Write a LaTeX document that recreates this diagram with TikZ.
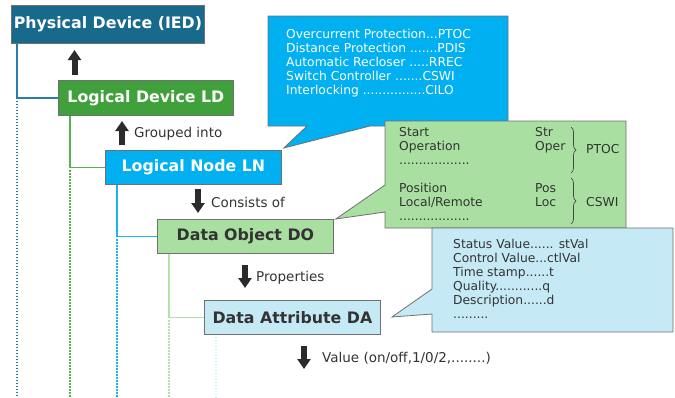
\documentclass[tikz,border=0pt]{standalone}
\usepackage{fontspec}
\setmainfont{DejaVu Sans}
\usetikzlibrary{arrows.meta,decorations.pathreplacing}
\definecolor{pdfill}{HTML}{176A8B}
\definecolor{ldfill}{HTML}{40A03B}
\definecolor{lnfill}{HTML}{00B0F0}
\definecolor{dofill}{HTML}{A9DFA1}
\definecolor{dafill}{HTML}{C6E9F6}
\definecolor{bordergray}{HTML}{707070}
\definecolor{pdline}{HTML}{2A7DA6}
\definecolor{ldline}{HTML}{58B24E}
\definecolor{lnline}{HTML}{1AB4F0}
\definecolor{doline}{HTML}{B2E2AA}
\definecolor{daline}{HTML}{CDEDF9}
\definecolor{txtdark}{HTML}{333333}
\definecolor{arrowdark}{HTML}{2B2B2B}
\tikzset{
  titlebox/.style={draw=bordergray, line width=0.8pt, anchor=north west, inner sep=0pt,
    font=\fontsize{15.8}{18}\selectfont\bfseries},
  treeline/.style={line width=1.2pt},
  dotline/.style={line width=1.3pt, dash pattern=on 1.3pt off 1.7pt},
  blockarrow/.style={line width=6pt, draw=arrowdark, -{Triangle[width=13pt,length=10pt]}},
  lbl/.style={anchor=base west, inner sep=0pt, text=txtdark, font=\fontsize{13.5}{16}\selectfont},
  ctext/.style={anchor=base west, inner sep=0pt, font=\fontsize{12.3}{14}\selectfont},
  callout/.style={draw=bordergray, line width=0.8pt, line join=miter},
  bracestyle/.style={draw=txtdark!90, line width=0.7pt, decorate, decoration={brace, amplitude=5pt}}
}
\begin{document}
\begin{tikzpicture}[x=1pt,y=-1pt]
\useasboundingbox (0,0) rectangle (675,397);
\coordinate (bot) at (0,397);

% title boxes
\node[titlebox, fill=pdfill, text=white, minimum width=193pt, minimum height=38pt] (pd) at (11,5) {Physical Device (IED)};
\node[titlebox, fill=ldfill, text=white, minimum width=175pt, minimum height=35pt] (ld) at (58,80) {Logical Device LD};
\node[titlebox, fill=lnfill, text=white, minimum width=176pt, minimum height=34pt] (ln) at (105,150) {Logical Node LN};
\node[titlebox, fill=dofill, text=txtdark, minimum width=176pt, minimum height=34pt] (do) at (157,219) {Data Object DO};
\node[titlebox, fill=dafill, text=txtdark, minimum width=176pt, minimum height=34pt] (da) at (204,300) {Data Attribute DA};

% tree lines
\draw[treeline, pdline] ([xshift=6pt]pd.south west) |- (ld.west);
\draw[dotline, pdline] ([xshift=6pt]pd.south west |- ld.west) ++(0,3) -- ([xshift=6pt]pd.south west |- bot);
\draw[treeline, ldline] ([xshift=12pt]ld.south west) |- (ln.west);
\draw[dotline, ldline] ([xshift=12pt]ld.south west |- ln.west) ++(0,3) -- ([xshift=12pt]ld.south west |- bot);
\draw[treeline, lnline] ([xshift=12pt]ln.south west) |- (do.west);
\draw[dotline, lnline] ([xshift=12pt]ln.south west |- do.west) ++(0,3) -- ([xshift=12pt]ln.south west |- bot);
\draw[treeline, doline] ([xshift=12pt]do.south west) |- (da.west);
\draw[dotline, doline] ([xshift=12pt]do.south west |- da.west) ++(0,3) -- ([xshift=12pt]do.south west |- bot);
\draw[dotline, daline] ([xshift=12pt]da.south west) ++(0,2) -- ([xshift=12pt]da.south west |- bot);

% block arrows and labels
\coordinate (a1s) at (74.5,75); \coordinate (a1e) at (74.5,50);
\coordinate (a2s) at (122,145); \coordinate (a2e) at (122,121);
\coordinate (a3s) at (198,189); \coordinate (a3e) at (198,213);
\coordinate (a4s) at (245,265); \coordinate (a4e) at (245,288);
\coordinate (a5s) at (304,346); \coordinate (a5e) at (304,369);
\draw[blockarrow] (a1s) -- (a1e);
\draw[blockarrow] (a2s) -- (a2e);
\draw[blockarrow] (a3s) -- (a3e);
\draw[blockarrow] (a4s) -- (a4e);
\draw[blockarrow] (a5s) -- (a5e);
\node[lbl] (l1) at (134,137) {Grouped into};
\node[lbl] (l2) at (211,207) {Consists of};
\node[lbl] (l3) at (256,281) {Properties};
\node[lbl] (l4) at (322,362) {Value (on/off,1/0/2,........)};

% blue callout
\coordinate (tipln) at ([shift={(2pt,2pt)}]ln.north east);
\draw[callout, fill=lnfill] (268,16) -- (508,16) -- (508,126) -- (370,126) -- (tipln) -- (307,126) -- (268,126) -- cycle;
\node[ctext, text=white] (b1) at (286,38) {Overcurrent Protection...PTOC};
\node[ctext, text=white] (b2) at (286,52) {Distance Protection .......PDIS};
\node[ctext, text=white] (b3) at (286,66) {Automatic Recloser .....RREC};
\node[ctext, text=white] (b4) at (286,80) {Switch Controller .......CSWI};
\node[ctext, text=white] (b5) at (286,94) {Interlocking ................CILO};

% green callout
\coordinate (tipdo) at ([shift={(2pt,0pt)}]do.north east);
\draw[callout, fill=dofill] (385,121) -- (626,121) -- (626,228) -- (385,228) -- (385,212) -- (tipdo) -- (385,185) -- cycle;
\node[ctext, text=txtdark] (g1) at (399,136) {Start};
\node[ctext, text=txtdark] (g2) at (399,150) {Operation};
\node[ctext, text=txtdark] (g3) at (399,164) {..................};
\node[ctext, text=txtdark] (g4) at (399,192) {Position};
\node[ctext, text=txtdark] (g5) at (399,206) {Local/Remote};
\node[ctext, text=txtdark] (g6) at (399,220) {..................};
\node[ctext, text=txtdark] (g7) at (535,136) {Str};
\node[ctext, text=txtdark] (g8) at (535,150) {Oper};
\node[ctext, text=txtdark] (g9) at (535,192) {Pos};
\node[ctext, text=txtdark] (g10) at (535,206) {Loc};
\coordinate (br1t) at (571,127); \coordinate (br1b) at (571,173);
\coordinate (br2t) at (571,178); \coordinate (br2b) at (571,224);
\draw[bracestyle] (br1t) -- (br1b);
\draw[bracestyle] (br2t) -- (br2b);
\node[ctext, text=txtdark] (g11) at (586,153) {PTOC};
\node[ctext, text=txtdark] (g12) at (586,206) {CSWI};

% light blue callout
\draw[callout, fill=dafill] (432,228) -- (673,228) -- (673,332) -- (432,332) -- (432,314) -- (392,317) -- (432,289) -- cycle;
\node[ctext, text=txtdark] (c1) at (453,248) {Status Value...... stVal};
\node[ctext, text=txtdark] (c2) at (453,262) {Control Value...ctlVal};
\node[ctext, text=txtdark] (c3) at (453,276) {Time stamp......t};
\node[ctext, text=txtdark] (c4) at (453,290) {Quality............q};
\node[ctext, text=txtdark] (c5) at (453,304) {Description......d};
\node[ctext, text=txtdark] (c6) at (453,318) {.........};
\end{tikzpicture}
\end{document}
